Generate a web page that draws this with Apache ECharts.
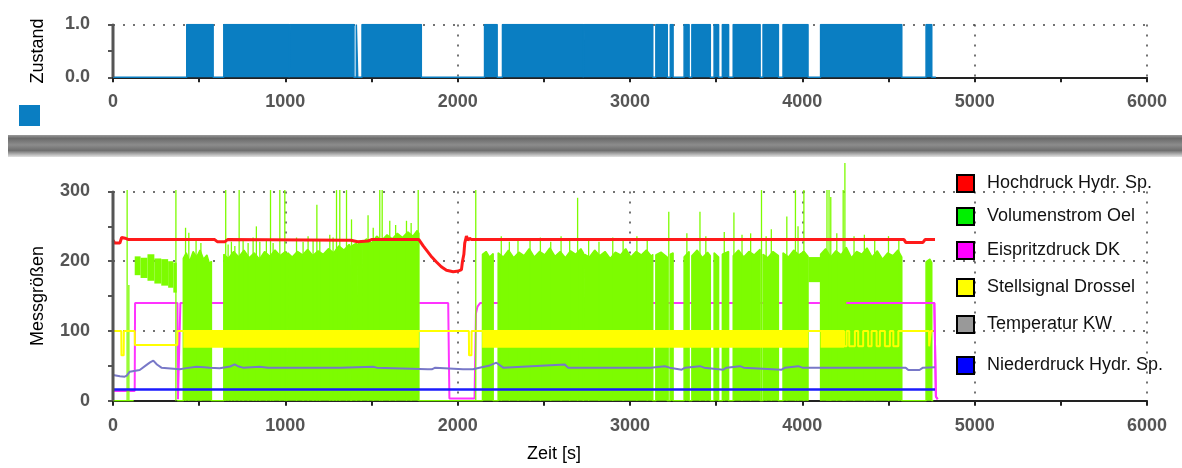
<!DOCTYPE html>
<html>
<head>
<meta charset="utf-8">
<title>Zustand / Messgrößen</title>
<script src="https://cdn.jsdelivr.net/npm/echarts@6/dist/echarts.min.js"></script>
<style>
html, body { margin: 0; padding: 0; background: #fff; }
#chart { width: 1182px; height: 468px; }
</style>
</head>
<body>
<div id="chart"></div>
<script>
// Zustand: Zeitbereiche mit Zustand = 1
const zustandOn = [[428, 581], [643, 1022], [1028, 1398], [1412, 1420], [1445, 1789], [2156, 2229], [2260, 2729], [2735, 3132], [3150, 3216], [3234, 3250], [3314, 3343], [3359, 3466], [3488, 3514], [3536, 3572], [3599, 3755], [3772, 3861], [3888, 4033], [4106, 4577], [4718, 4751]]
const zustandEnd = 4775
const cursorAt = [0]

const seriesNames = ['Hochdruck Hydr. Sp.', 'Volumenstrom Oel', 'Eispritzdruck DK', 'Stellsignal Drossel', 'Temperatur KW', 'Niederdruck Hydr. Sp.']
const xTicks = [0, 1000, 2000, 3000, 4000, 5000, 6000]
const yTicks = [0, 100, 200, 300]

const hochdruck = [[0, 230], [10, 226], [40, 226], [50, 234], [70, 233], [90, 231], [590, 231], [605, 228], [650, 228], [665, 231], [1380, 230], [1420, 228], [1480, 229], [1500, 231], [1775, 231], [1800, 222], [1819, 216], [1850, 206], [1877, 199], [1905, 192], [1935, 187], [1974, 185], [2005, 186], [2022, 188], [2028, 200], [2036, 210], [2041, 226], [2051, 236], [2060, 230], [2068, 233], [2080, 231], [4590, 231], [4600, 227], [4700, 227], [4712, 231], [4770, 231]]

// Volumenstrom: gefuellte Bloecke (von 0 bis Oberkante), '-' = Luecke
const volumenstrom = [[0, 0], [120, 0], [246, '-'], [372, 0],
  [408, 0], [408, 204], [425, 212], [445, 200], [465, 214], [485, 206], [505, 216], [525, 203], [545, 209], [560, 196], [571, 200], [571, 0],
  [643, 0], [643, 210], [670, 204], [700, 214], [730, 206], [760, 216], [790, 205], [820, 212], [850, 203], [880, 214], [910, 207], [940, 216], [970, 208], [1000, 214], [1008, 210], [1008, 0], [1014, 0], [1014, 212],
  [1040, 206], [1070, 214], [1100, 209], [1130, 217], [1160, 208], [1190, 215], [1220, 210], [1250, 218], [1280, 212], [1310, 222], [1340, 216], [1370, 224], [1380, 220], [1380, 0], [1386, 0], [1386, 222], [1412, 226], [1412, 0], [1418, 0], [1418, 224], [1440, 228], [1440, 0], [1446, 0], [1446, 226],
  [1470, 232], [1500, 226], [1530, 236], [1560, 230], [1590, 238], [1620, 232], [1650, 240], [1680, 234], [1710, 242], [1740, 236], [1765, 244], [1775, 240], [1775, 0],
  [2144, 0], [2144, 210], [2165, 214], [2185, 206], [2206, 211], [2206, 0], [2235, 0], [2235, 212],
  [2265, 206], [2295, 216], [2325, 205], [2355, 213], [2385, 208], [2415, 218], [2445, 206], [2475, 214], [2505, 209], [2535, 219], [2565, 207], [2595, 214], [2625, 205], [2655, 215], [2685, 210], [2715, 218], [2729, 212], [2729, 0], [2735, 0], [2735, 210],
  [2765, 206], [2795, 216], [2825, 208], [2855, 214], [2885, 204], [2915, 213], [2945, 209], [2975, 218], [3005, 206], [3035, 214], [3065, 209], [3095, 216], [3125, 207], [3132, 210], [3132, 0], [3150, 0], [3150, 209], [3180, 213], [3216, 206], [3216, 0], [3234, 0], [3234, 210], [3250, 212], [3250, 0],
  [3314, 0], [3314, 206], [3343, 214], [3343, 0], [3359, 0], [3359, 208], [3390, 216], [3420, 205], [3450, 213], [3466, 208], [3466, 0], [3488, 0], [3488, 212], [3514, 206], [3514, 0], [3536, 0], [3536, 210], [3572, 214], [3572, 0],
  [3599, 0], [3599, 208], [3630, 216], [3660, 206], [3690, 214], [3720, 209], [3755, 217], [3755, 0], [3772, 0], [3772, 210], [3800, 205], [3830, 214], [3861, 208], [3861, 0], [3888, 0], [3888, 212], [3920, 206], [3950, 216], [3980, 209], [4010, 214], [4033, 207], [4033, 0], [4070, '-'],
  [4106, 0], [4106, 210], [4135, 218], [4165, 206], [4195, 215], [4225, 209], [4255, 220], [4285, 205], [4315, 214], [4345, 210], [4375, 219], [4405, 206], [4435, 215], [4465, 203], [4495, 212], [4525, 208], [4555, 216], [4577, 206], [4577, 0],
  [4718, 0], [4718, 199], [4740, 203], [4751, 198], [4751, 0], [4760, 0]]
// einzelne Spitzen
const oelSpikes = [[82, 302], [92, 166], [365, 302], [421, 248], [440, 241], [482, 230], [510, 226], [654, 302], [668, 224], [687, 228], [707, 222], [732, 302], [755, 230], [784, 226], [813, 234], [832, 250], [852, 228], [890, 232], [914, 302], [929, 226], [968, 302], [997, 302], [1065, 234], [1103, 228], [1132, 236], [1161, 230], [1183, 281], [1200, 232], [1258, 238], [1277, 234], [1297, 302], [1316, 302], [1355, 302], [1384, 260], [1480, 266], [1510, 248], [1548, 302], [1562, 302], [1606, 258], [1640, 252], [1703, 258], [1730, 255], [1771, 302], [2105, 302], [2253, 236], [2300, 228], [2350, 232], [2420, 230], [2480, 234], [2540, 228], [2600, 236], [2650, 230], [2696, 291], [2760, 232], [2820, 228], [2900, 234], [2960, 230], [3040, 236], [3100, 230], [3225, 271], [3330, 240], [3406, 271], [3440, 236], [3547, 242], [3603, 270], [3650, 238], [3700, 240], [3763, 302], [3790, 236], [3820, 246], [3910, 264], [3960, 302], [3975, 250], [4009, 302], [4143, 302], [4155, 302], [4165, 292], [4200, 240], [4237, 302], [4247, 341], [4300, 236], [4360, 238], [4420, 232], [4500, 236], [4560, 230]]
// schwebende Baender [von, bis, unten, oben]
const oelBand = [[126, 160, 180, 207], [160, 200, 176, 205], [200, 240, 172, 210], [240, 280, 168, 204], [280, 320, 165, 203], [320, 350, 162, 200], [350, 370, 155, 198], [4035, 4106, 170, 206]]

const einspritz = [[0, 14], [126, 14], [128, 140], [374, 140], [377, 2], [388, 2], [391, 140], [1945, 140], [1952, 3], [2098, 3], [2106, 125], [2115, 135], [2130, 140], [4255, 140], [4766, 140], [4775, 6], [4785, 2]]
// ab hier liegt Eispritzdruck sichtbar ueber dem Volumenstrom
const einspritzOben = 4255

const drosselLine = [[0, 100], [48, 100], [49, 65], [62, 65], [63, 100], [126, 100], [127, 80], [373, 80], [374, 100], [2065, 100], [2066, 65], [2080, 65], [2081, 100], [4242, 100], [4242, 78], [4257, 78], [4257, 100], [4272, 100], [4272, 78], [4305, 78], [4305, 100], [4324, 100], [4324, 78], [4353, 78], [4353, 100], [4382, 100], [4382, 78], [4402, 78], [4402, 100], [4431, 100], [4431, 78], [4450, 78], [4450, 100], [4479, 100], [4479, 78], [4508, 78], [4508, 100], [4528, 100], [4528, 78], [4557, 78], [4557, 100], [4735, 100], [4736, 78], [4745, 78], [4746, 100], [4760, 100]]
const drosselBand = [[408, 1775, 76, 100], [2142, 4035, 76, 100], [4106, 4242, 76, 100]]

const temperatur = [[0, 37], [40, 35], [68, 34.5], [80, 36], [97, 41.6], [130, 43], [155, 44], [193, 51], [215, 55], [234, 57.4], [255, 52], [281, 47.4], [387, 45], [426, 46.7], [484, 48.8], [530, 48], [561, 47.4], [619, 46.5], [680, 49], [706, 52], [730, 49], [754, 47.4], [851, 48.8], [900, 47.4], [1290, 47.4], [1300, 49], [1320, 47.4], [1509, 48.8], [1530, 47.4], [1827, 45], [1850, 45], [1870, 47.4], [2031, 45], [2089, 45], [2120, 47], [2180, 50], [2225, 54.5], [2264, 47.4], [2622, 52], [2640, 47.4], [3120, 47.4], [3202, 49.5], [3230, 47.4], [3300, 44.5], [3320, 47.4], [3406, 49.5], [3430, 47.4], [3541, 44.5], [3560, 47.4], [3638, 49.5], [3660, 47.4], [3880, 44.5], [3900, 47.4], [3976, 49.5], [4000, 47.4], [4600, 47.4], [4615, 44], [4680, 44], [4700, 47.4], [4770, 48]]

const niederdruck = [[0, 16], [4770, 16]]

const font = "'Liberation Sans', Arial, sans-serif"
const lineColors = ['#ff1a1a', '#7dfc00', '#ff33ff', '#ffff00', '#7878c8', '#1a1aff']
const legendColors = ['#ff0000', '#00f000', '#ff00ff', '#ffff00', '#999999', '#0000ff']
const legendTops = [174, 207, 241, 278, 315, 356]

// Zustand als Rechteckfolge
const zustandPts = [[0, 0]]
zustandOn.forEach(([s, e]) => {
  zustandPts.push([s, 0], [s, 1], [e, 1], [e, 0])
})
zustandPts.push([zustandEnd, 0])

function rectItem (color) {
  return function (params, api) {
    const a = api.coord([api.value(0), api.value(3)])
    const b = api.coord([api.value(1), api.value(2)])
    return {
      type: 'rect',
      shape: { x: a[0], y: a[1], width: b[0] - a[0], height: b[1] - a[1] },
      style: { fill: color }
    }
  }
}

const dotted = { color: '#444', type: [2, 8], width: 1.5 }
const labelStyle = { fontSize: 18, fontWeight: 'bold', color: '#555', fontFamily: font }

function xAxisFor (i) {
  return {
    type: 'value',
    gridIndex: i,
    min: xTicks[0],
    max: xTicks[xTicks.length - 1],
    interval: xTicks[1] - xTicks[0],
    axisLine: { show: true, onZero: false, lineStyle: { color: '#222', width: 2 } },
    axisTick: { show: true, length: 5, lineStyle: { color: '#222', width: 2 } },
    minorTick: { show: true, splitNumber: 2, length: 5, lineStyle: { color: '#222', width: 2 } },
    axisLabel: { ...labelStyle, margin: 16, formatter: v => String(v) },
    splitLine: { show: true, lineStyle: dotted }
  }
}

function line (name, data, color, width, z, extra) {
  return Object.assign({
    type: 'line',
    name: name,
    xAxisIndex: 1,
    yAxisIndex: 1,
    data: data,
    z: z,
    showSymbol: false,
    silent: true,
    color: color,
    lineStyle: { color: color, width: width }
  }, extra || {})
}

const option = {
  animation: false,
  textStyle: { fontFamily: font },
  grid: [
    { left: 113, right: 35, top: 24.5, height: 52.8 },
    { left: 113, right: 35, top: 191.5, height: 209.2 }
  ],
  xAxis: [xAxisFor(0), xAxisFor(1)],
  yAxis: [
    {
      type: 'value',
      gridIndex: 0,
      min: 0,
      max: 1,
      interval: 1,
      offset: 15,
      name: 'Zustand',
      nameLocation: 'middle',
      nameGap: 51,
      nameTextStyle: { fontSize: 18, color: '#000', fontFamily: font },
      axisLine: { show: true, lineStyle: { color: '#555', width: 2 } },
      axisTick: { show: true, length: 5, lineStyle: { color: '#555', width: 2 } },
      minorTick: { show: true, splitNumber: 2, length: 5, lineStyle: { color: '#555', width: 2 } },
      axisLabel: { ...labelStyle, margin: 8, formatter: v => v.toFixed(1) },
      splitLine: { show: true, lineStyle: dotted }
    },
    {
      type: 'value',
      gridIndex: 1,
      min: yTicks[0],
      max: yTicks[yTicks.length - 1],
      interval: yTicks[1] - yTicks[0],
      offset: 15,
      name: 'Messgrößen',
      nameLocation: 'middle',
      nameGap: 51,
      nameTextStyle: { fontSize: 18, color: '#000', fontFamily: font },
      axisLine: { show: true, lineStyle: { color: '#555', width: 2 } },
      axisTick: { show: true, length: 5, lineStyle: { color: '#555', width: 2 } },
      minorTick: { show: true, splitNumber: 2, length: 5, lineStyle: { color: '#555', width: 2 } },
      axisLabel: { ...labelStyle, margin: 8 },
      splitLine: { show: true, lineStyle: dotted }
    }
  ],
  legend: [
    {
      left: 19,
      top: 105,
      padding: 0,
      icon: 'rect',
      itemWidth: 21,
      itemHeight: 21,
      selectedMode: false,
      formatter: () => '',
      data: ['Zustand']
    }
  ].concat(seriesNames.map((n, i) => ({
    left: 956,
    top: legendTops[i],
    padding: 0,
    icon: 'rect',
    itemWidth: 17,
    itemHeight: 17,
    selectedMode: false,
    textStyle: { fontSize: 18, color: '#111', fontFamily: font, padding: [0, 0, 0, 8] },
    data: [{ name: n, itemStyle: { color: legendColors[i], borderColor: '#000', borderWidth: 2 } }]
  }))),
  graphic: [
    {
      type: 'rect',
      left: 8,
      top: 135,
      silent: true,
      shape: { width: 1174, height: 22 },
      style: {
        fill: new echarts.graphic.LinearGradient(0, 0, 0, 1, [
          { offset: 0, color: '#9a9a9a' },
          { offset: 0.15, color: '#6a6a6a' },
          { offset: 0.45, color: '#8c8c8c' },
          { offset: 0.7, color: '#6e6e6e' },
          { offset: 1, color: '#e2e2e2' }
        ])
      }
    },
    {
      type: 'text',
      left: 527,
      top: 445,
      silent: true,
      style: { text: 'Zeit [s]', fontSize: 18, fill: '#000', fontFamily: font }
    }
  ],
  series: [
    {
      type: 'line',
      name: 'Zustand',
      xAxisIndex: 0,
      yAxisIndex: 0,
      data: zustandPts,
      showSymbol: false,
      silent: true,
      color: '#0a7ec2',
      lineStyle: { color: '#0a7ec2', width: 1.5 },
      areaStyle: { color: '#0a7ec2', opacity: 1 }
    },
    {
      type: 'line',
      xAxisIndex: 0,
      yAxisIndex: 0,
      data: cursorAt.flatMap(c => [[c, 0], [c, 1]]),
      z: 6,
      showSymbol: false,
      silent: true,
      lineStyle: { color: '#555', width: 3 }
    },
    line(seriesNames[2], einspritz, lineColors[2], 2, 1),
    line(seriesNames[2], einspritz.filter(p => p[0] >= einspritzOben), lineColors[2], 2, 4),
    line(seriesNames[1], volumenstrom, lineColors[1], 1.5, 2, {
      areaStyle: { color: lineColors[1], opacity: 1 }
    }),
    {
      type: 'bar',
      name: seriesNames[1],
      xAxisIndex: 1,
      yAxisIndex: 1,
      data: oelSpikes,
      z: 2,
      barWidth: 1.3,
      clip: false,
      silent: true,
      color: lineColors[1],
      itemStyle: { color: lineColors[1] }
    },
    {
      type: 'custom',
      name: seriesNames[1],
      xAxisIndex: 1,
      yAxisIndex: 1,
      data: oelBand,
      encode: { x: [0, 1], y: [2, 3] },
      z: 2,
      silent: true,
      color: lineColors[1],
      renderItem: rectItem(lineColors[1])
    },
    {
      type: 'custom',
      name: seriesNames[3],
      xAxisIndex: 1,
      yAxisIndex: 1,
      data: drosselBand,
      encode: { x: [0, 1], y: [2, 3] },
      z: 3,
      silent: true,
      color: lineColors[3],
      renderItem: rectItem(lineColors[3])
    },
    line(seriesNames[3], drosselLine, lineColors[3], 2, 4),
    line(seriesNames[4], temperatur, lineColors[4], 2, 4),
    line(seriesNames[5], niederdruck, lineColors[5], 2.5, 4),
    line(seriesNames[0], hochdruck, lineColors[0], 3, 5),
    {
      type: 'line',
      xAxisIndex: 1,
      yAxisIndex: 1,
      data: cursorAt.flatMap(c => [[c, 0], [c, 300]]),
      z: 6,
      showSymbol: false,
      silent: true,
      lineStyle: { color: '#555', width: 3 }
    }
  ]
}

const myChart = echarts.init(document.getElementById('chart'))
myChart.setOption(option)
</script>
</body>
</html>
